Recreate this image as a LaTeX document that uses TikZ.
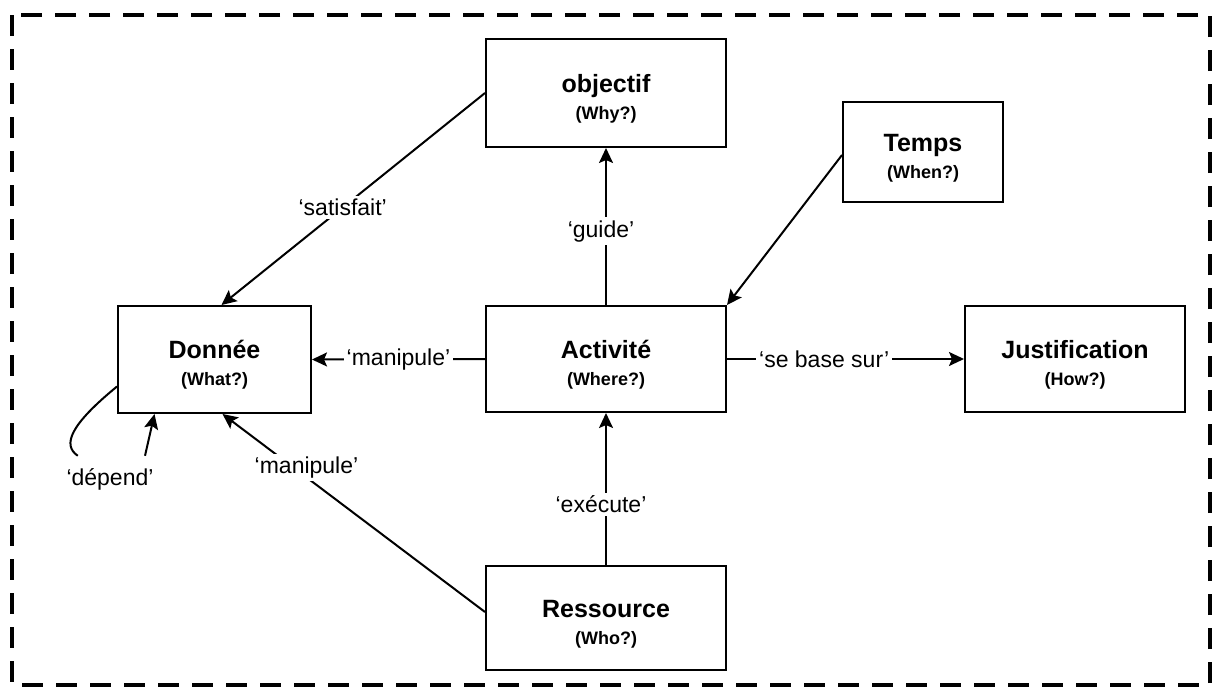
\documentclass[tikz,border=0pt]{standalone}
\usepackage{fontspec}
\setmainfont{Liberation Sans}
\usetikzlibrary{arrows.meta,calc}
\newcommand{\ttl}[1]{{\fontsize{25}{28}\selectfont\bfseries #1}}
\newcommand{\sbt}[1]{{\fontsize{18}{28}\selectfont\bfseries #1}}
\newcommand{\bxt}[2]{\raisebox{-7pt}[\height][\depth]{\begin{tabular}{@{}c@{}}\ttl{#1}\\[-1pt]\sbt{#2}\end{tabular}}}
\begin{document}
\begin{tikzpicture}[x=1pt,y=-1pt,
  box/.style={draw, line width=2pt, fill=white, rectangle, align=center, inner sep=0pt,
    font=\fontsize{18}{28}\selectfont\bfseries},
  conn/.style={line width=2pt},
  arr/.style={conn, -{Stealth[length=15pt,width=14pt,inset=3pt]}},
  lbl/.style={fill=white, inner sep=3pt, font=\fontsize{23}{26}\selectfont}]
\useasboundingbox (0,0) rectangle (1218,696);
\draw[line width=4.5pt, dash pattern=on 21pt off 13pt] (12,15) rectangle (1210,685);

\node[box, minimum width=240pt, minimum height=108pt] (obj) at (606,93) {\bxt{objectif}{(Why?)}};
\node[box, minimum width=160pt, minimum height=100pt] (tps) at (923,152) {\bxt{Temps}{(When?)}};
\node[box, minimum width=193pt, minimum height=107pt] (don) at (214.5,359.5) {\bxt{Donnée}{(What?)}};
\node[box, minimum width=240pt, minimum height=106pt] (act) at (606,359) {\bxt{Activité}{(Where?)}};
\node[box, minimum width=220pt, minimum height=106pt] (jus) at (1075,359) {\bxt{Justification}{(How?)}};
\node[box, minimum width=240pt, minimum height=104pt] (res) at (606,618) {\bxt{Ressource}{(Who?)}};

\draw[arr] (obj.west) -- node[lbl, pos=0.54] {‘satisfait’} ($(don.north)+(7,0)$);
\draw[arr] (act.north) -- node[lbl, pos=0.47, xshift=-5pt] {‘guide’} (obj.south);
\draw[arr] ($(tps.west)+(0,3)$) -- (act.north east);
\draw[arr] (act.west) -- node[lbl, pos=0.5] {‘manipule’} (don.east);
\draw[arr] (act.east) -- node[lbl, pos=0.41] {‘se base sur’} (jus.west);
\draw[arr] (res.north) -- node[lbl, pos=0.4, xshift=-5pt] {‘exécute’} (act.south);
\draw[arr] ($(res.west)+(0,-6)$) -- node[lbl, pos=0.68, yshift=10pt] {‘manipule’} ($(don.south)+(8,0)$);

\node[lbl, minimum width=140pt, minimum height=46pt] (dep) at (128,479) {\hspace*{-36pt}‘dépend’};
\draw[conn] ($(don.west)+(0,27)$) .. controls (70,425) and (62,445) .. ($(dep.north west)+(20,0)$);
\draw[arr] ($(dep.north)+(17,0)$) -- ($(don.south)+(-60,0)$);
\end{tikzpicture}
\end{document}
